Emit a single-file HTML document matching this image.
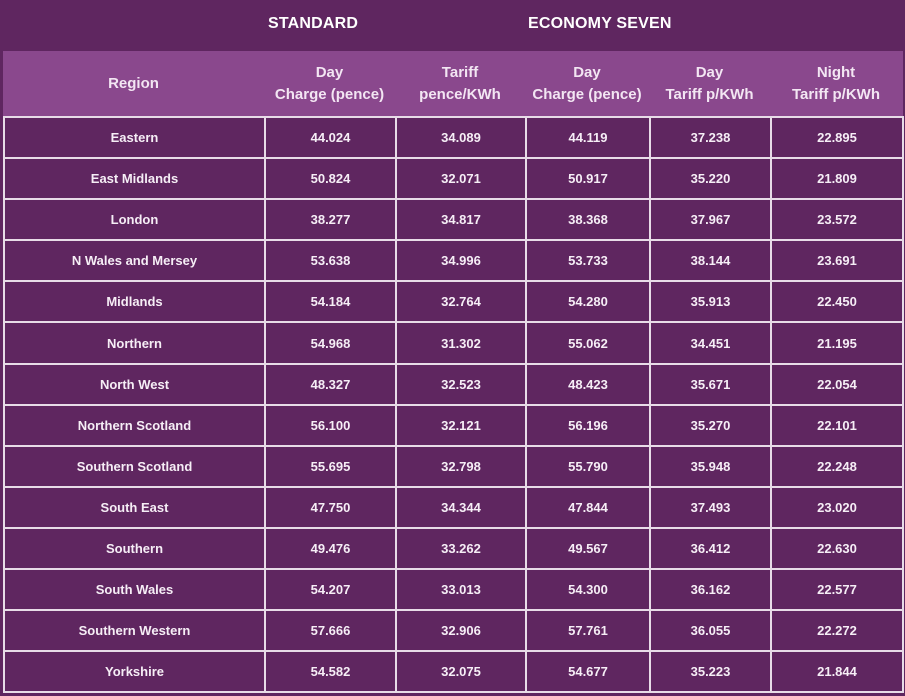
<!DOCTYPE html><html><head><style>
body{margin:0;width:905px;height:696px;background:#5f2660;position:relative;overflow:hidden;font-family:"Liberation Sans",sans-serif;color:#fff}
.t{position:absolute;top:15px;font-size:16px;font-weight:bold;letter-spacing:0.2px}
.hdr{position:absolute;left:3px;top:51px;width:900px;height:65px;background:#8a488d}
.h{position:absolute;top:51px;height:65px;display:flex;align-items:center;justify-content:center;text-align:center;font-size:15px;font-weight:bold;line-height:22px;color:#f3e6f3}
table{position:absolute;left:3px;top:116px;border-collapse:collapse}
td{border:2px solid #e8dce8;height:39.1px;padding:0;text-align:center;font-size:13px;font-weight:bold;color:#f6eef6}
</style></head><body>
<div class="t" style="left:268px">STANDARD</div>
<div class="t" style="left:528px">ECONOMY SEVEN</div>
<div class="hdr"></div>
<div class="h" style="left:3px;width:261px">Region</div>
<div class="h" style="left:264px;width:131px">Day<br>Charge (pence)</div>
<div class="h" style="left:395px;width:130px">Tariff<br>pence/KWh</div>
<div class="h" style="left:525px;width:124px">Day<br>Charge (pence)</div>
<div class="h" style="left:649px;width:121px">Day<br>Tariff p/KWh</div>
<div class="h" style="left:770px;width:132px">Night<br>Tariff p/KWh</div>
<table>
<colgroup><col style="width:261px"><col style="width:131px"><col style="width:130px"><col style="width:124px"><col style="width:121px"><col style="width:132px"></colgroup>
<tr><td>Eastern</td><td>44.024</td><td>34.089</td><td>44.119</td><td>37.238</td><td>22.895</td></tr>
<tr><td>East Midlands</td><td>50.824</td><td>32.071</td><td>50.917</td><td>35.220</td><td>21.809</td></tr>
<tr><td>London</td><td>38.277</td><td>34.817</td><td>38.368</td><td>37.967</td><td>23.572</td></tr>
<tr><td>N Wales and Mersey</td><td>53.638</td><td>34.996</td><td>53.733</td><td>38.144</td><td>23.691</td></tr>
<tr><td>Midlands</td><td>54.184</td><td>32.764</td><td>54.280</td><td>35.913</td><td>22.450</td></tr>
<tr><td>Northern</td><td>54.968</td><td>31.302</td><td>55.062</td><td>34.451</td><td>21.195</td></tr>
<tr><td>North West</td><td>48.327</td><td>32.523</td><td>48.423</td><td>35.671</td><td>22.054</td></tr>
<tr><td>Northern Scotland</td><td>56.100</td><td>32.121</td><td>56.196</td><td>35.270</td><td>22.101</td></tr>
<tr><td>Southern Scotland</td><td>55.695</td><td>32.798</td><td>55.790</td><td>35.948</td><td>22.248</td></tr>
<tr><td>South East</td><td>47.750</td><td>34.344</td><td>47.844</td><td>37.493</td><td>23.020</td></tr>
<tr><td>Southern</td><td>49.476</td><td>33.262</td><td>49.567</td><td>36.412</td><td>22.630</td></tr>
<tr><td>South Wales</td><td>54.207</td><td>33.013</td><td>54.300</td><td>36.162</td><td>22.577</td></tr>
<tr><td>Southern Western</td><td>57.666</td><td>32.906</td><td>57.761</td><td>36.055</td><td>22.272</td></tr>
<tr><td>Yorkshire</td><td>54.582</td><td>32.075</td><td>54.677</td><td>35.223</td><td>21.844</td></tr>
</table>
</body></html>
